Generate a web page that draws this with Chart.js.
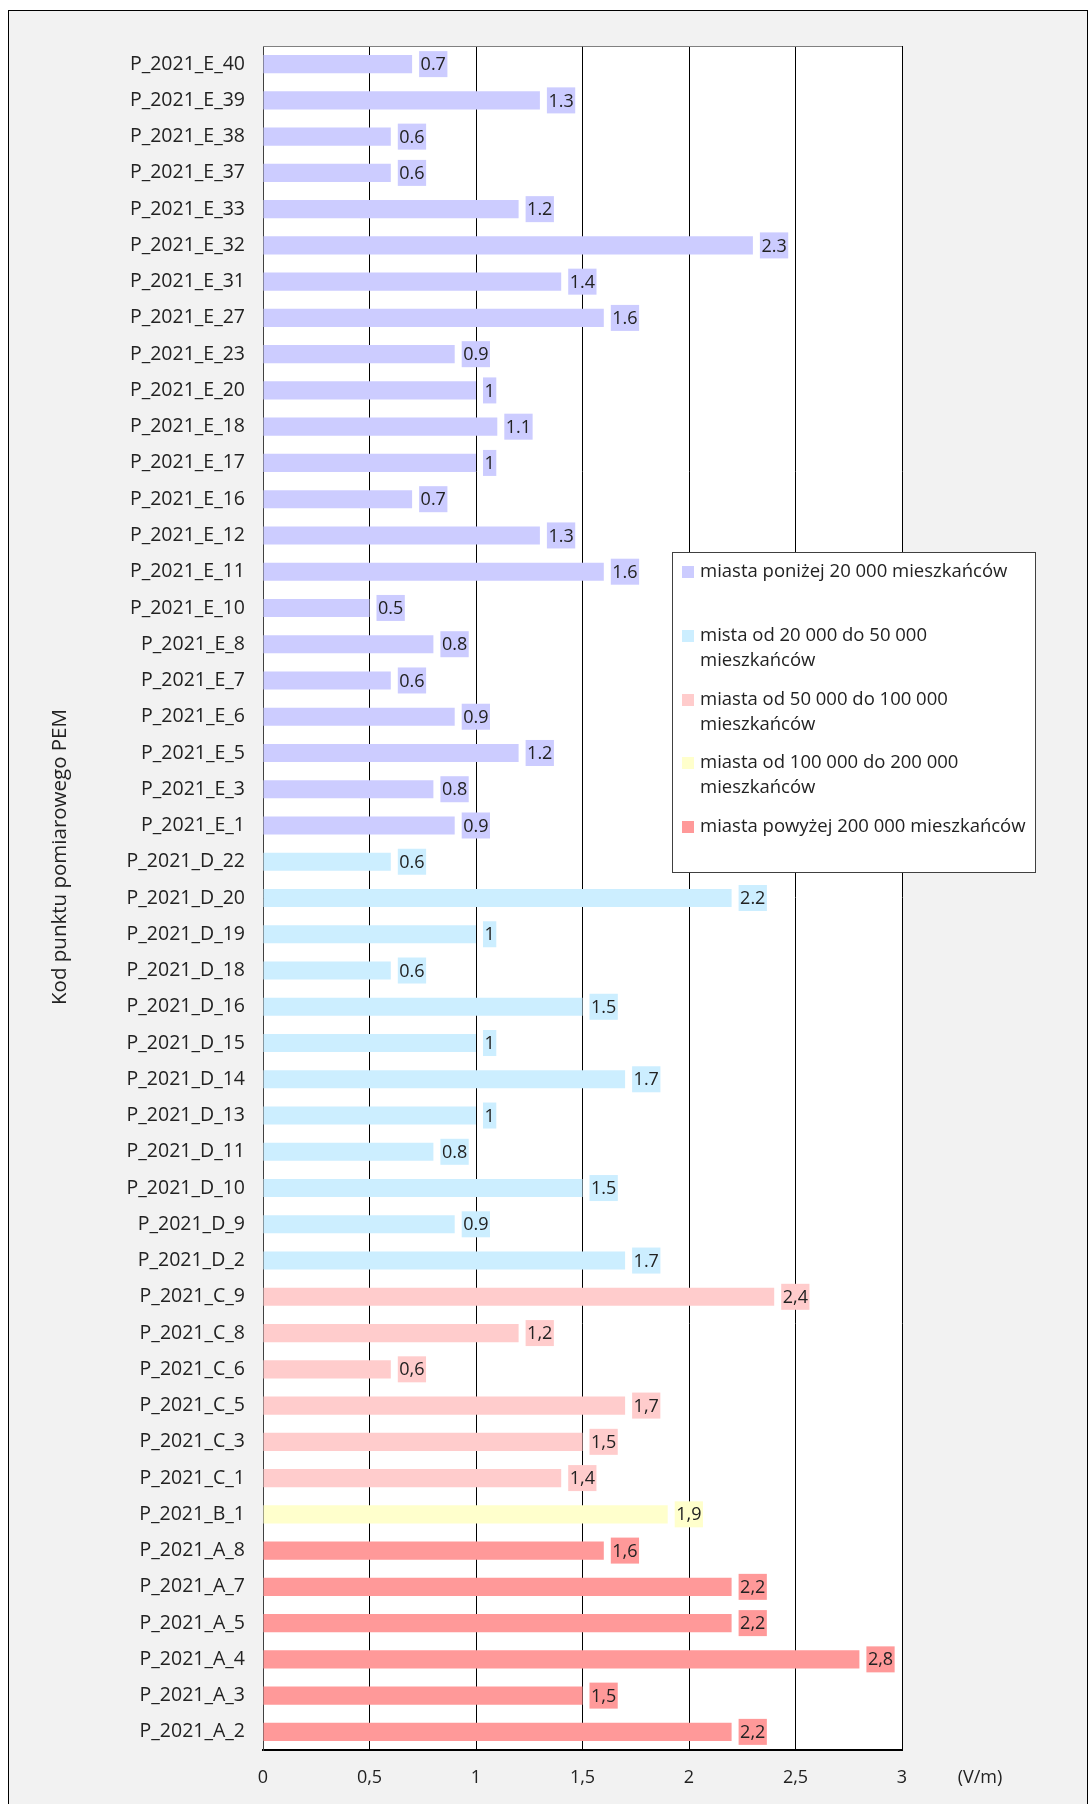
<!DOCTYPE html>
<html>
<head>
<meta charset="utf-8">
<script src="https://cdn.jsdelivr.net/npm/chart.js@4"></script>
<style>
  html, body { margin: 0; padding: 0; background: #fff; }
  #chart { display: block; }
</style>
</head>
<body>
<canvas id="chart" width="1091" height="1804" style="width:1091px;height:1804px"></canvas>
<script>
// punkty pomiarowe, od gory do dolu
var categories = [
    'P_2021_E_40', 'P_2021_E_39', 'P_2021_E_38', 'P_2021_E_37', 'P_2021_E_33', 'P_2021_E_32',
    'P_2021_E_31', 'P_2021_E_27', 'P_2021_E_23', 'P_2021_E_20', 'P_2021_E_18', 'P_2021_E_17',
    'P_2021_E_16', 'P_2021_E_12', 'P_2021_E_11', 'P_2021_E_10', 'P_2021_E_8', 'P_2021_E_7',
    'P_2021_E_6', 'P_2021_E_5', 'P_2021_E_3', 'P_2021_E_1',
    'P_2021_D_22', 'P_2021_D_20', 'P_2021_D_19', 'P_2021_D_18', 'P_2021_D_16', 'P_2021_D_15',
    'P_2021_D_14', 'P_2021_D_13', 'P_2021_D_11', 'P_2021_D_10', 'P_2021_D_9', 'P_2021_D_2',
    'P_2021_C_9', 'P_2021_C_8', 'P_2021_C_6', 'P_2021_C_5', 'P_2021_C_3', 'P_2021_C_1',
    'P_2021_B_1',
    'P_2021_A_8', 'P_2021_A_7', 'P_2021_A_5', 'P_2021_A_4', 'P_2021_A_3', 'P_2021_A_2'
];
var values = [
    0.7, 1.3, 0.6, 0.6, 1.2, 2.3,
    1.4, 1.6, 0.9, 1, 1.1, 1,
    0.7, 1.3, 1.6, 0.5, 0.8, 0.6,
    0.9, 1.2, 0.8, 0.9,
    0.6, 2.2, 1, 0.6, 1.5, 1,
    1.7, 1, 0.8, 1.5, 0.9, 1.7,
    2.4, 1.2, 0.6, 1.7, 1.5, 1.4,
    1.9,
    1.6, 2.2, 2.2, 2.8, 1.5, 2.2
];
var groupKeys = ['E', 'D', 'C', 'B', 'A'];
var groupNames = [
    ['miasta poniżej 20 000 mieszkańców'],
    ['mista od 20 000 do 50 000', 'mieszkańców'],
    ['miasta od 50 000 do 100 000', 'mieszkańców'],
    ['miasta od 100 000 do 200 000', 'mieszkańców'],
    ['miasta powyżej 200 000 mieszkańców']
];
var groupColors = ['#ccccff', '#cceeff', '#ffcccc', '#ffffcc', '#ff9999'];
var groupDecimal = ['.', '.', ',', ',', ','];
var xTickLabels = ['0', '0,5', '1', '1,5', '2', '2,5', '3'];
var xUnit = '(V/m)';
var yTitle = 'Kod punktu pomiarowego PEM';

var FONT = "'Open Sans', sans-serif";
var TEXT = '#222222';

function groupIndex(cat) {
    return groupKeys.indexOf(cat.split('_')[2]);
}
var barColors = categories.map(function (c) { return groupColors[groupIndex(c)]; });

Chart.defaults.font.family = FONT;
Chart.defaults.font.size = 18;
Chart.defaults.color = TEXT;

var decorPlugin = {
    id: 'decor',
    beforeDraw: function (chart) {
        var c = chart.ctx, a = chart.chartArea;
        c.save();
        c.fillStyle = '#ffffff';
        c.fillRect(0, 0, chart.width, chart.height);
        c.fillStyle = '#f2f2f2';
        c.fillRect(8, 10, 1079, 1800);
        c.strokeStyle = '#000000';
        c.lineWidth = 1;
        c.strokeRect(8.5, 10.5, 1079, 1800);
        c.fillStyle = '#ffffff';
        c.fillRect(a.left, a.top, a.right - a.left, a.bottom - a.top);
        c.restore();
    },
    afterDraw: function (chart) {
        var c = chart.ctx, a = chart.chartArea;
        c.save();
        // gorna ramka
        c.strokeStyle = '#808080';
        c.lineWidth = 1;
        c.beginPath();
        c.moveTo(a.left, a.top + 0.5);
        c.lineTo(a.right, a.top + 0.5);
        c.stroke();

        // tytul osi Y
        c.fillStyle = TEXT;
        c.font = '20.5px ' + FONT;
        c.textAlign = 'center';
        c.textBaseline = 'middle';
        c.translate(60, 857);
        c.rotate(-Math.PI / 2);
        c.fillText(yTitle, 0, 0);
        c.setTransform(1, 0, 0, 1, 0, 0);

        // jednostka
        c.font = '18px ' + FONT;
        c.fillText(xUnit, 980, 1778);

        // legenda
        var lx = 672, ly = 552, lw = 363, lh = 320;
        c.fillStyle = '#ffffff';
        c.fillRect(lx, ly, lw, lh);
        c.strokeStyle = '#404040';
        c.strokeRect(lx + 0.5, ly + 0.5, lw, lh);
        var rows = [572, 636, 700, 763, 827];
        c.font = '18.5px ' + FONT;
        c.textAlign = 'left';
        for (var i = 0; i < groupNames.length; i++) {
            c.fillStyle = groupColors[i];
            c.fillRect(682, rows[i] - 6, 12, 12);
            c.fillStyle = TEXT;
            for (var j = 0; j < groupNames[i].length; j++) {
                c.fillText(groupNames[i][j], 700, rows[i] + j * 25);
            }
        }
        c.restore();
    },
    afterDatasetsDraw: function (chart) {
        var c = chart.ctx;
        var meta = chart.getDatasetMeta(0);
        c.save();
        c.font = '18px ' + FONT;
        c.textBaseline = 'middle';
        c.textAlign = 'left';
        meta.data.forEach(function (bar, i) {
            var g = groupIndex(categories[i]);
            var txt = String(values[i]).replace('.', groupDecimal[g]);
            var w = c.measureText(txt).width + 3;
            var x = bar.x + 7;
            c.fillStyle = groupColors[g];
            c.fillRect(x, bar.y - 13, w, 26);
            c.fillStyle = TEXT;
            c.fillText(txt, x + 1.5, bar.y + 1);
        });
        c.restore();
    }
};

new Chart(document.getElementById('chart').getContext('2d'), {
    type: 'bar',
    data: {
        labels: categories,
        datasets: [{
            data: values,
            backgroundColor: barColors,
            borderWidth: 0,
            barPercentage: 0.5,
            categoryPercentage: 1
        }]
    },
    options: {
        indexAxis: 'y',
        responsive: false,
        animation: false,
        devicePixelRatio: 1,
        layout: { padding: { left: 0, top: 46, right: 189, bottom: 0 } },
        plugins: {
            legend: { display: false },
            tooltip: { enabled: false }
        },
        scales: {
            x: {
                min: 0,
                max: 3,
                ticks: {
                    stepSize: 0.5,
                    padding: 17,
                    color: TEXT,
                    callback: function (v, i) { return xTickLabels[i]; }
                },
                grid: { color: '#000000', lineWidth: 1, drawTicks: false },
                border: { color: '#000000', width: 2 },
                afterFit: function (s) { s.height = 54; }
            },
            y: {
                ticks: { padding: 18, autoSkip: false, color: TEXT, font: { size: 19.5 } },
                grid: { display: false, drawTicks: false },
                border: { color: '#404040', width: 1 },
                afterFit: function (s) { s.width = 263; }
            }
        }
    },
    plugins: [decorPlugin]
});
</script>
</body>
</html>
